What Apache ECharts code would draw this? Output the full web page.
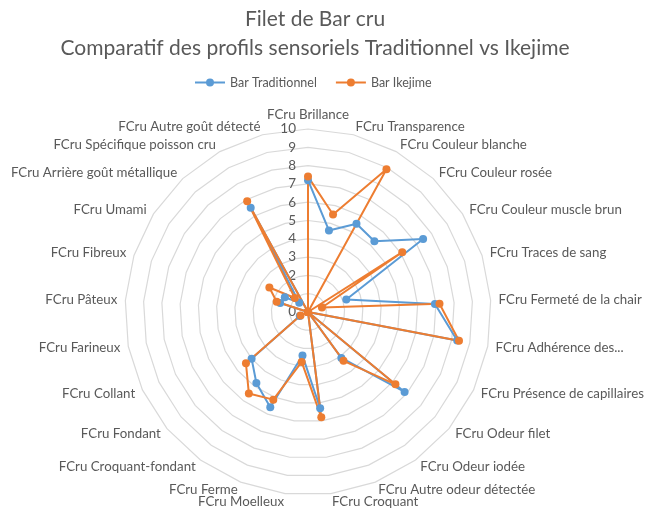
<!DOCTYPE html>
<html>
<head>
<meta charset="utf-8">
<script src="https://cdn.jsdelivr.net/npm/echarts@6/dist/echarts.min.js"></script>
<style>
  html, body { margin: 0; padding: 0; background: #fff; }
  #chart { width: 648px; height: 513px; }
</style>
</head>
<body>
<div id="chart"></div>
<script>
// categories, clockwise from the top
const categories = [
  'FCru Brillance', 'FCru Transparence', 'FCru Couleur blanche', 'FCru Couleur rosée',
  'FCru Couleur muscle brun', 'FCru Traces de sang', 'FCru Fermeté de la chair',
  'FCru Adhérence des...', 'FCru Présence de capillaires', 'FCru Odeur filet',
  'FCru Odeur iodée', 'FCru Autre odeur détectée', 'FCru Croquant', 'FCru Moelleux',
  'FCru Ferme', 'FCru Croquant-fondant', 'FCru Fondant', 'FCru Collant', 'FCru Farineux',
  'FCru Pâteux', 'FCru Fibreux', 'FCru Umami', 'FCru Arrière goût métallique',
  'FCru Spécifique poisson cru', 'FCru Autre goût détecté'
];
const traditionnel = [7.2, 4.6, 5.5, 5.3, 7.45, 2.2, 6.95, 8.3, 0, 6.85, 3.1, 0, 5.3, 2.4,
  5.6, 4.8, 4.0, 0.5, 0, 0, 1.6, 1.5, 0.7, 6.5, 0];
const ikejime = [7.4, 5.5, 8.9, 0, 6.1, 0.8, 7.2, 8.4, 0, 6.2, 3.3, 0, 5.8, 2.75,
  5.15, 5.5, 4.4, 0.45, 0, 0, 1.8, 2.5, 1.05, 6.9, 0];
const seriesNames = ['Bar Traditionnel', 'Bar Ikejime'];
const valueMin = 0;
const valueMax = 10;

const BLUE = '#5B9BD5';
const ORANGE = '#ED7D31';
const TEXT = '#595959';
const FONT = 'Lato, sans-serif';

// echarts lays radar indicators counter-clockwise, so reverse all but the first
const order = [0];
for (let i = categories.length - 1; i > 0; i--) order.push(i);

const legendIcon = 'path://M0,3 L30,3 L30,5 L0,5 Z M11,4 A4,4 0 1,1 19,4 A4,4 0 1,1 11,4 Z';

const chart = echarts.init(document.getElementById('chart'));

const option = {
  animation: false,
  title: {
    text: 'Filet de Bar cru\nComparatif des profils sensoriels Traditionnel vs Ikejime',
    left: 310,
    top: -1,
    textAlign: 'center',
    textStyle: {
      color: TEXT,
      fontSize: 21,
      fontWeight: 'normal',
      fontFamily: FONT,
      lineHeight: 29.5
    }
  },
  legend: {
    data: [
      { name: seriesNames[0], icon: legendIcon, itemStyle: { color: BLUE, borderWidth: 0 } },
      { name: seriesNames[1], icon: legendIcon, itemStyle: { color: ORANGE, borderWidth: 0 } }
    ],
    top: 71,
    left: 190,
    itemWidth: 30,
    itemHeight: 8,
    itemGap: 19,
    textStyle: { color: TEXT, fontSize: 12.5, fontFamily: FONT }
  },
  radar: {
    center: [308, 312],
    radius: 183,
    startAngle: 90,
    shape: 'polygon',
    splitNumber: 10,
    axisNameGap: 8,
    axisName: { color: TEXT, fontSize: 13.3, fontFamily: FONT },
    splitLine: { lineStyle: { color: '#D9D9D9', width: 1.2 } },
    splitArea: { show: false },
    axisLine: { show: false },
    axisTick: { show: false },
    axisLabel: { show: false },
    indicator: order.map(function (i) {
      const ind = { name: categories[i], min: valueMin, max: valueMax };
      if (i === 0) {
        ind.axisLabel = { show: true, color: TEXT, fontSize: 13.5, fontFamily: FONT, margin: 12 };
      }
      return ind;
    })
  },
  series: [{
    type: 'radar',
    symbol: 'circle',
    symbolSize: 8,
    data: [
      {
        name: seriesNames[0],
        value: order.map(i => traditionnel[i]),
        lineStyle: { color: BLUE, width: 2 },
        itemStyle: { color: BLUE }
      },
      {
        name: seriesNames[1],
        value: order.map(i => ikejime[i]),
        lineStyle: { color: ORANGE, width: 2 },
        itemStyle: { color: ORANGE }
      }
    ]
  }]
};

chart.setOption(option);
</script>
</body>
</html>
